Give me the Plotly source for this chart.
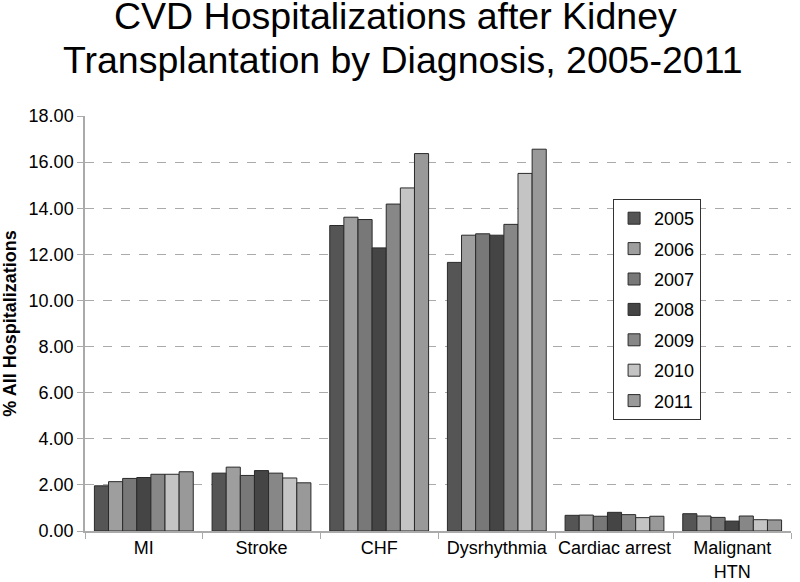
import plotly.graph_objects as go

categories = ["MI", "Stroke", "CHF", "Dysrhythmia", "Cardiac arrest", "Malignant<br>HTN"]
years = ["2005", "2006", "2007", "2008", "2009", "2010", "2011"]
values = {
    "2005": [1.96, 2.51, 13.25, 11.65, 0.68, 0.75],
    "2006": [2.14, 2.77, 13.61, 12.83, 0.69, 0.65],
    "2007": [2.28, 2.41, 13.51, 12.89, 0.64, 0.59],
    "2008": [2.32, 2.62, 12.28, 12.83, 0.81, 0.43],
    "2009": [2.46, 2.51, 14.18, 13.30, 0.71, 0.65],
    "2010": [2.46, 2.30, 14.88, 15.51, 0.58, 0.49],
    "2011": [2.57, 2.09, 16.37, 16.56, 0.64, 0.48],
}
title_lines = ["CVD Hospitalizations after Kidney", "Transplantation by Diagnosis, 2005-2011"]
colors = ["#555555", "#9e9e9e", "#787878", "#454545", "#878787", "#c4c4c4", "#999999"]

fig = go.Figure()
for i, y in enumerate(years):
    fig.add_trace(go.Bar(
        x=categories, y=values[y], name=y,
        marker=dict(color=colors[i], line=dict(color="#2a2a2a", width=1)),
        legendgroup=y,
    ))

font_family = "Liberation Sans, Arial, sans-serif"
fig.update_layout(
    width=800, height=582,
    paper_bgcolor="white", plot_bgcolor="white",
    margin=dict(l=85, r=9, t=116, b=51),
    barmode="group", bargap=0.16, bargroupgap=0,
    font=dict(family=font_family, color="black", size=18),
    showlegend=True,
    legend=dict(
        x=0.748, y=0.80, xanchor="left", yanchor="top",
        bordercolor="#333333", borderwidth=1, bgcolor="white",
        font=dict(size=18, family=font_family),
        traceorder="grouped", tracegroupgap=4,
        itemwidth=30,
    ),
    xaxis=dict(
        showline=True, linecolor="#aaaaaa", linewidth=1.5,
        ticks="outside", tickson="boundaries", ticklen=6, tickcolor="#aaaaaa",
        tickfont=dict(size=18), showgrid=False, tickangle=0, automargin=False,
    ),
    yaxis=dict(
        range=[0, 18], dtick=2, tickformat=".2f",
        showline=True, linecolor="#aaaaaa", linewidth=1.5,
        ticks="outside", ticklen=6, tickcolor="#aaaaaa",
        showgrid=True, gridcolor="#aaaaaa", griddash="dash", gridwidth=1,
        zeroline=False, tickfont=dict(size=18), automargin=False,
        title=dict(text="<b>% All Hospitalizations</b>", font=dict(size=18), standoff=12),
    ),
)
for txt, xx, yy in zip(title_lines, [0.4405, 0.450], [1.240, 1.136]):
    fig.add_annotation(
        text=txt, x=xx, y=yy, xref="paper", yref="paper",
        xanchor="center", yanchor="middle", showarrow=False,
        font=dict(size=37.5, family=font_family, color="black"),
    )

fig.write_html(
    "out.html",
    config={"displayModeBar": False},
    post_script="document.body.style.margin='0';",
)
